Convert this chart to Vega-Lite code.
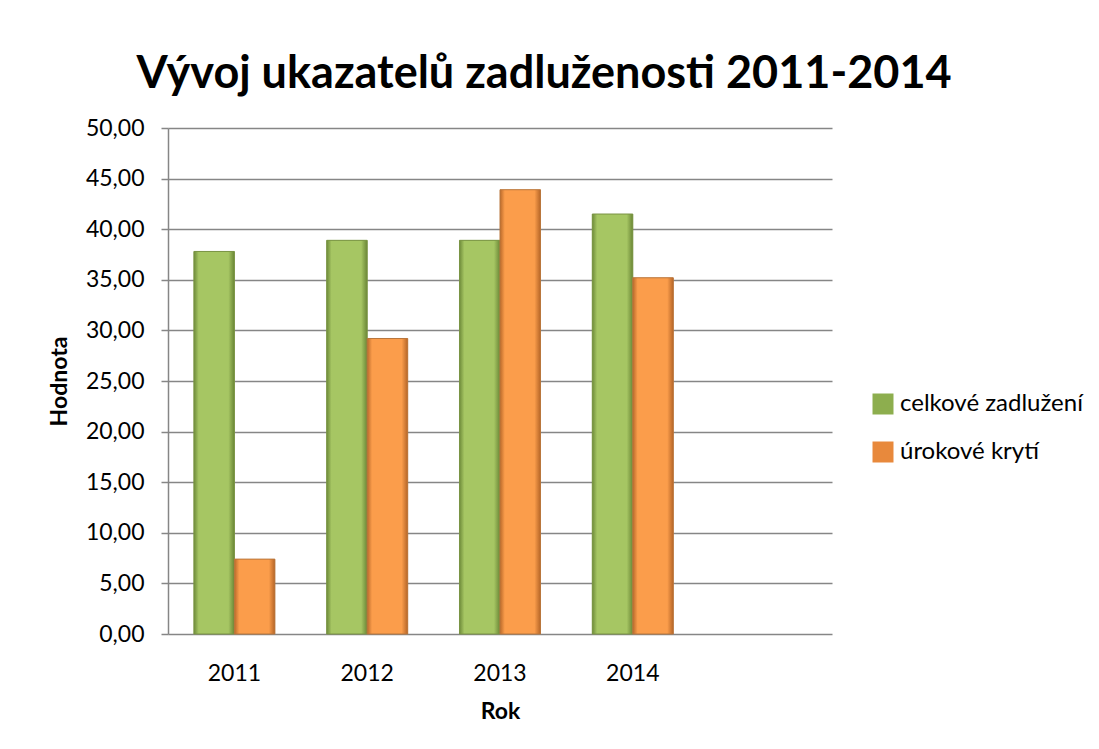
{
  "$schema": "https://vega.github.io/schema/vega-lite/v6.json",
  "autosize": {"type": "none"},
  "width": 664,
  "height": 506,
  "padding": {"left": 168, "top": 128, "right": 267, "bottom": 115},
  "background": "white",
  "title": {
    "text": "Vývoj ukazatelů zadluženosti 2011-2014",
    "font": "Lato",
    "fontSize": 45,
    "fontWeight": "bold",
    "color": "#000000",
    "anchor": "middle",
    "dx": 44,
    "offset": 20
  },
  "data": {
    "values": [
      {"rok": "2011", "serie": "celkové zadlužení", "hodnota": 37.8},
      {"rok": "2011", "serie": "úrokové krytí", "hodnota": 7.4},
      {"rok": "2012", "serie": "celkové zadlužení", "hodnota": 38.9},
      {"rok": "2012", "serie": "úrokové krytí", "hodnota": 29.2},
      {"rok": "2013", "serie": "celkové zadlužení", "hodnota": 38.9},
      {"rok": "2013", "serie": "úrokové krytí", "hodnota": 43.9},
      {"rok": "2014", "serie": "celkové zadlužení", "hodnota": 41.5},
      {"rok": "2014", "serie": "úrokové krytí", "hodnota": 35.2}
    ]
  },
  "encoding": {
    "x": {
      "field": "rok",
      "type": "nominal",
      "scale": {"domain": ["2011", "2012", "2013", "2014", " "], "paddingInner": 0.39, "paddingOuter": 0.195},
      "axis": {
        "title": "Rok",
        "labelAngle": 0,
        "ticks": false,
        "domain": false,
        "labelPadding": 28,
        "labelFont": "Lato",
        "labelFontSize": 23,
        "labelColor": "#000000",
        "titleFont": "Lato",
        "titleFontSize": 23,
        "titleFontWeight": "bold",
        "titleColor": "#000000",
        "titlePadding": 15
      }
    },
    "xOffset": {"field": "serie", "type": "nominal"},
    "y": {
      "field": "hodnota",
      "type": "quantitative",
      "scale": {"domain": [0, 50], "nice": false},
      "axis": {
        "title": "Hodnota",
        "values": [0, 5, 10, 15, 20, 25, 30, 35, 40, 45, 50],
        "format": ".2f",
        "labelExpr": "replace(datum.label, '.', ',')",
        "grid": true,
        "gridColor": "#868686",
        "gridWidth": 1.5,
        "domainColor": "#868686",
        "domainWidth": 1.5,
        "tickColor": "#868686",
        "tickWidth": 1.5,
        "tickSize": 7,
        "labelPadding": 17,
        "labelFont": "Lato",
        "labelFontSize": 23,
        "labelColor": "#000000",
        "titleFont": "Lato",
        "titleFontSize": 23,
        "titleFontWeight": "bold",
        "titleColor": "#000000",
        "titlePadding": 14
      }
    }
  },
  "layer": [
    {
      "mark": {"type": "bar"},
      "encoding": {
        "color": {
          "field": "serie",
          "type": "nominal",
          "scale": {"domain": ["celkové zadlužení", "úrokové krytí"], "range": ["#8DAE4E", "#E8893C"]},
          "legend": {
            "title": null,
            "orient": "none",
            "legendX": 703,
            "legendY": 264,
            "symbolType": "square",
            "symbolSize": 441,
            "symbolStrokeWidth": 0,
            "labelFont": "Lato",
            "labelFontSize": 24,
            "labelColor": "#000000",
            "labelOffset": 5,
            "labelLimit": 400,
            "rowPadding": 24
          }
        }
      }
    },
    {
      "mark": {"type": "bar", "strokeWidth": 1},
      "encoding": {
        "fill": {
          "condition": {
            "test": "datum.serie === 'celkové zadlužení'",
            "value": {
              "gradient": "linear", "x1": 0, "y1": 0, "x2": 1, "y2": 0,
              "stops": [
                {"offset": 0, "color": "#6E8B3A"},
                {"offset": 0.12, "color": "#A6C663"},
                {"offset": 0.85, "color": "#A6C663"},
                {"offset": 1, "color": "#6A8636"}
              ]
            }
          },
          "value": {
            "gradient": "linear", "x1": 0, "y1": 0, "x2": 1, "y2": 0,
            "stops": [
              {"offset": 0, "color": "#B9692A"},
              {"offset": 0.12, "color": "#FB9D4B"},
              {"offset": 0.85, "color": "#FB9D4B"},
              {"offset": 1, "color": "#B56527"}
            ]
          }
        },
        "stroke": {
          "condition": {"test": "datum.serie === 'celkové zadlužení'", "value": "#7A9444"},
          "value": "#B9763C"
        }
      }
    }
  ],
  "config": {
    "view": {"stroke": null},
    "axis": {"labelFont": "Lato"}
  }
}
